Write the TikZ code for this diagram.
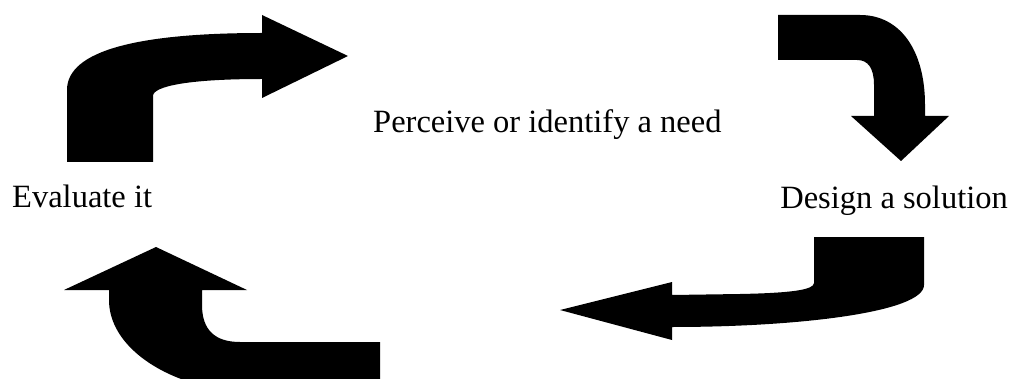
\documentclass[tikz,border=0pt]{standalone}
\usepackage{fontspec}
\setmainfont{Liberation Serif}
\begin{document}
\begin{tikzpicture}[x=1pt,y=-1pt,
  bentarrow/.style={fill=black,draw=none},
  lbl/.style={inner sep=0pt,anchor=base west,font=\fontsize{32.5}{38}\selectfont}]
\useasboundingbox (0,0) rectangle (1016,379);
\begin{scope}
\clip (0,0) rectangle (1016,379);
% top-left arrow
\fill[bentarrow] (67,162) -- (67,90) .. controls (67,50) and (140,33) .. (262,33)
  -- (262,15) -- (348,56) -- (262,98) -- (262,79)
  .. controls (190,79) and (153,86) .. (153,96) -- (153,162) -- cycle;
% top-right arrow
\fill[bentarrow] (778,15) -- (860,15) .. controls (900,15) and (925,50) .. (925,105)
  -- (925,116) -- (949,116) -- (901,161) -- (851,116) -- (874,116) -- (874,85)
  .. controls (874,68) and (868,60) .. (857,60) -- (778,60) -- cycle;
% bottom-right arrow
\fill[bentarrow] (814,237) -- (924,237) -- (924,285)
  .. controls (924,312) and (800,327) .. (672,327)
  -- (672,340) -- (560,310) -- (672,282) -- (672,295) -- (740,294)
  .. controls (790,293) and (814,290) .. (814,283) -- cycle;
% bottom-left arrow
\fill[bentarrow] (109,290) -- (64,290) -- (156,247) -- (247,290) -- (202,290) -- (202,305)
  .. controls (202,330) and (215,342) .. (240,342) -- (380,342) -- (380,385) -- (200,385)
  .. controls (150,372) and (109,340) .. (109,300) -- cycle;
\end{scope}
\node[lbl] (need) at (373,133) {Perceive or identify a need};
\node[lbl] (eval) at (12,208) {Evaluate it};
\node[lbl,anchor=base east] (design) at (1008,209) {Design a solution};
\end{tikzpicture}
\end{document}
